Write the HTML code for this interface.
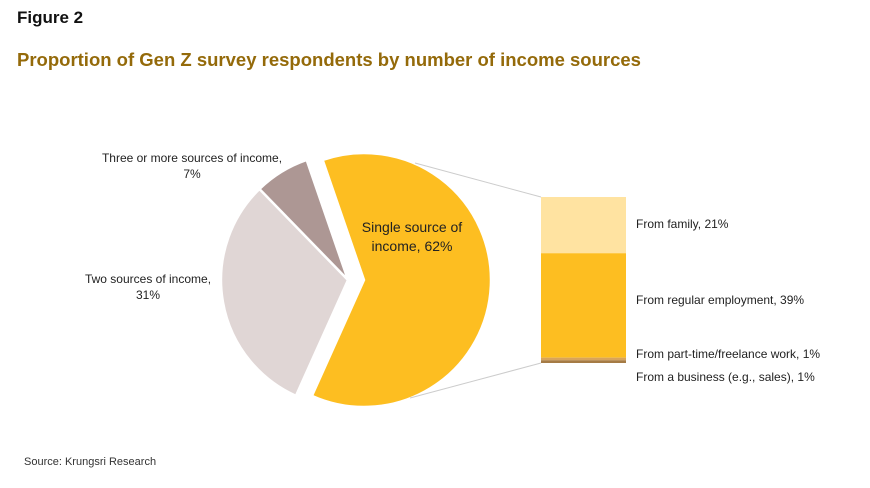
<!DOCTYPE html>
<html><head><meta charset="utf-8"><style>
body{margin:0;background:#fff;font-family:"Liberation Sans",sans-serif;}
#wrap{position:relative;width:870px;height:488px;overflow:hidden}
.t{position:absolute;white-space:nowrap;color:#222}
</style></head><body>
<div id="wrap">
<div class="t" style="left:17px;top:8px;font-size:17px;font-weight:bold;color:#111">Figure 2</div>
<div class="t" style="left:17px;top:49px;font-size:18.5px;font-weight:bold;color:#946A0A">Proportion of Gen Z survey respondents by number of income sources</div>
<svg id="chart" width="870" height="488" style="position:absolute;left:0;top:0"></svg>
<div class="t" style="left:24px;top:456px;font-size:11px;color:#333">Source: Krungsri Research</div>
</div>
<script>
const pieLabels=["Single source of income","Two sources of income","Three or more sources of income"];
const pieValues=[62,31,7];
const pieColors=["#FDBE21","#E0D6D5","#AD9794"];
const barLabels=["From family","From regular employment","From part-time/freelance work","From a business (e.g., sales)"];
const barValues=[21,39,1,1];
const barColors=["#FFE3A1","#FDBE21","#D9A45A","#A57B45"];
const NS="http://www.w3.org/2000/svg";
const svg=document.getElementById('chart');
function mk(t,a){const e=document.createElementNS(NS,t);for(const k in a)e.setAttribute(k,a[k]);svg.appendChild(e);return e;}
const cx=348,cy=280,R=127,explode=16,startDeg=-19;
const total=pieValues.reduce((a,b)=>a+b,0);
function pt(x,y,deg,r){const a=deg*Math.PI/180;return [x+r*Math.sin(a),y-r*Math.cos(a)];}
let ang=startDeg;
const arcs=[];
pieValues.forEach((v,i)=>{
  const sweep=v/total*360, a0=ang, a1=ang+sweep; ang=a1;
  const mid=(a0+a1)/2;
  let x=cx,y=cy;
  if(i===0){x=cx+explode;}
  const p0=pt(x,y,a0,R),p1=pt(x,y,a1,R);
  const d=`M${x},${y} L${p0[0]},${p0[1]} A${R},${R} 0 ${sweep>180?1:0} 1 ${p1[0]},${p1[1]} Z`;
  const e=mk('path',{d:d,fill:pieColors[i],stroke:'#fff','stroke-width':2.5});
  
  
  arcs.push({x,y,a0,a1});
});
// bar
const bx=541,bw=85,by=197,bh=166;
const btot=barValues.reduce((a,b)=>a+b,0);
let yy=by;
const barTops=[];
barValues.forEach((v,i)=>{
  const h=v/btot*bh;
  const r=mk('rect',{x:bx,y:yy,width:bw,height:h,fill:barColors[i]});
  
  
  barTops.push(yy+h/2);yy+=h;
});
// connectors
const s=arcs[0];
const c1=pt(s.x,s.y,s.a0+(s.a1-s.a0)*0.05,R), c2=pt(s.x,s.y,s.a1-(s.a1-s.a0)*0.03,R);
const l1=mk('line',{x1:415,y1:163,x2:bx,y2:by,stroke:'#ccc','stroke-width':1});


const l2=mk('line',{x1:410,y1:398,x2:bx,y2:by+bh,stroke:'#ccc','stroke-width':1});


function txt(x,y,str,anchor,name,size){const t=mk('text',{x:x,y:y,'text-anchor':anchor,'font-size':size||12,fill:'#222','font-family':'Liberation Sans, sans-serif'});t.textContent=str;return t;}
txt(412,232,"Single source of","middle","pie-label-single",14);
txt(412,251,"income, "+pieValues[0]+"%","middle","pie-label-single-value",14);
txt(148,283,"Two sources of income,","middle","pie-label-two");
txt(148,299,pieValues[1]+"%","middle","pie-label-two-value");
txt(192,162,"Three or more sources of income,","middle","pie-label-three");
txt(192,178,pieValues[2]+"%","middle","pie-label-three-value");
const ly=[228,304,358,381];
barLabels.forEach((l,i)=>{txt(636,ly[i],l+", "+barValues[i]+"%","start","bar-label-"+(i+1));});
</script>
</body></html>
